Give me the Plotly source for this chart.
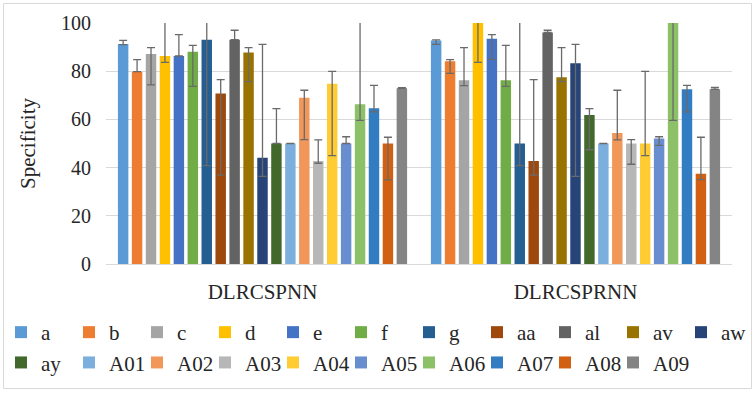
import plotly.graph_objects as go

categories = ["DLRCSPNN", "DLRCSPRNN"]
series = ["a", "b", "c", "d", "e", "f", "g", "aa", "al", "av", "aw",
          "ay", "A01", "A02", "A03", "A04", "A05", "A06", "A07", "A08", "A09"]
colors = ["#5B9BD5", "#ED7D31", "#A5A5A5", "#FFC000", "#4472C4", "#70AD47",
          "#255E91", "#9E480E", "#636363", "#997300", "#264478", "#43682B",
          "#7CAFDD", "#F1975A", "#B7B7B7", "#FFCD33", "#698ED0", "#8CC168",
          "#327DC2", "#D26012", "#848484"]

# bar values per series: [DLRCSPNN, DLRCSPRNN]
values = {
    "a": [91.3, 92.7], "b": [79.8, 84.1], "c": [87.1, 76.2], "d": [86.3, 100.0],
    "e": [86.3, 93.5], "f": [88.1, 76.2], "g": [93.1, 50.0], "aa": [70.7, 42.7],
    "al": [93.1, 96.1], "av": [87.8, 77.5], "aw": [44.1, 83.3], "ay": [50.0, 61.8],
    "A01": [50.0, 50.0], "A02": [69.0, 54.4], "A03": [42.7, 50.0], "A04": [74.8, 50.0],
    "A05": [50.0, 52.1], "A06": [66.3, 100.0], "A07": [64.6, 72.5], "A08": [50.0, 37.5],
    "A09": [72.9, 72.5],
}
# error bar upper ends
err_hi = {
    "a": [92.8, 93.0], "b": [84.8, 84.8], "c": [89.8, 89.8], "d": [110, 110],
    "e": [95.2, 95.2], "f": [90.7, 90.7], "g": [110, 110], "aa": [76.5, 76.5],
    "al": [97.0, 97.0], "av": [89.8, 89.8], "aw": [91.1, 91.1], "ay": [64.5, 64.5],
    "A01": [50.0, 50.0], "A02": [72.1, 72.1], "A03": [51.5, 51.6], "A04": [79.9, 79.9],
    "A05": [52.8, 52.8], "A06": [110, 110], "A07": [74.1, 74.1], "A08": [52.6, 52.6],
    "A09": [73.2, 73.3],
}
# error bar lower ends
err_lo = {
    "a": [91.0, 91.1], "b": [79.8, 79.1], "c": [74.3, 74.0], "d": [83.7, 83.7],
    "e": [86.3, 84.9], "f": [73.7, 73.7], "g": [40.8, 40.8], "aa": [36.9, 36.9],
    "al": [93.1, 96.1], "av": [75.7, 75.7], "aw": [36.4, 36.4], "ay": [50.0, 47.4],
    "A01": [50.0, 50.0], "A02": [51.6, 51.5], "A03": [41.8, 41.4], "A04": [45.0, 45.0],
    "A05": [50.0, 49.2], "A06": [59.6, 59.6], "A07": [63.1, 63.1], "A08": [34.9, 35.0],
    "A09": [72.9, 72.5],
}

y_ticks = [0, 20, 40, 60, 80, 100]

FONT = "Times New Roman, Liberation Serif, serif"
TXT = "#262626"

fig = go.Figure()
for name, col in zip(series, colors):
    v = values[name]
    plus = [max(h - x, 0) for h, x in zip(err_hi[name], v)]
    minus = [max(x - l, 0) for l, x in zip(err_lo[name], v)]
    fig.add_trace(go.Bar(
        name=name, x=categories, y=v, marker=dict(color=col, line=dict(width=0)),
        error_y=dict(type="data", symmetric=False, array=plus, arrayminus=minus,
                     color="#6a6a6a", thickness=1.3, width=4),
    ))

W, H = 755, 393
L, R, T, B = 106, 0, 23, 129
PLOT_RIGHT = 732
pw, ph = W - L - R, H - T - B
x_domain_end = (PLOT_RIGHT - L) / pw

def px2paper_x(px):
    return (px - L) / pw

def px2paper_y(py):
    return (H - B - py) / ph

fig.add_shape(type="rect", xref="paper", yref="paper",
              x0=px2paper_x(3.5), x1=px2paper_x(751.5),
              y0=px2paper_y(388.5), y1=px2paper_y(3.5),
              line=dict(color="#D9D9D9", width=1), fillcolor="rgba(0,0,0,0)", layer="below")

fig.update_layout(
    width=W, height=H,
    margin=dict(l=L, r=R, t=T, b=B),
    paper_bgcolor="white", plot_bgcolor="white",
    barmode="group", bargap=0.065, bargroupgap=0.25,
    font=dict(family=FONT, size=20, color=TXT),
    showlegend=True,
    legend=dict(orientation="h", xref="paper", yref="paper",
                x=px2paper_x(1), y=px2paper_y(312), xanchor="left", yanchor="top",
                entrywidth=23, entrywidthmode="pixels",
                bgcolor="rgba(0,0,0,0)",
                font=dict(family=FONT, size=21, color=TXT),
                itemclick=False, traceorder="normal", tracegroupgap=0),
    xaxis=dict(domain=[0, x_domain_end], showgrid=False, showline=False, ticks="",
               tickfont=dict(size=21), ticklabelstandoff=13),
    yaxis=dict(range=[0, 100], tickvals=y_ticks, showgrid=True, gridcolor="#D9D9D9",
               gridwidth=1, zeroline=True, zerolinecolor="#D9D9D9", zerolinewidth=1,
               showline=False, ticks="", ticklabelstandoff=14,
               title=dict(text="Specificity", font=dict(size=21), standoff=19)),
)

fig.write_html("out.html")
